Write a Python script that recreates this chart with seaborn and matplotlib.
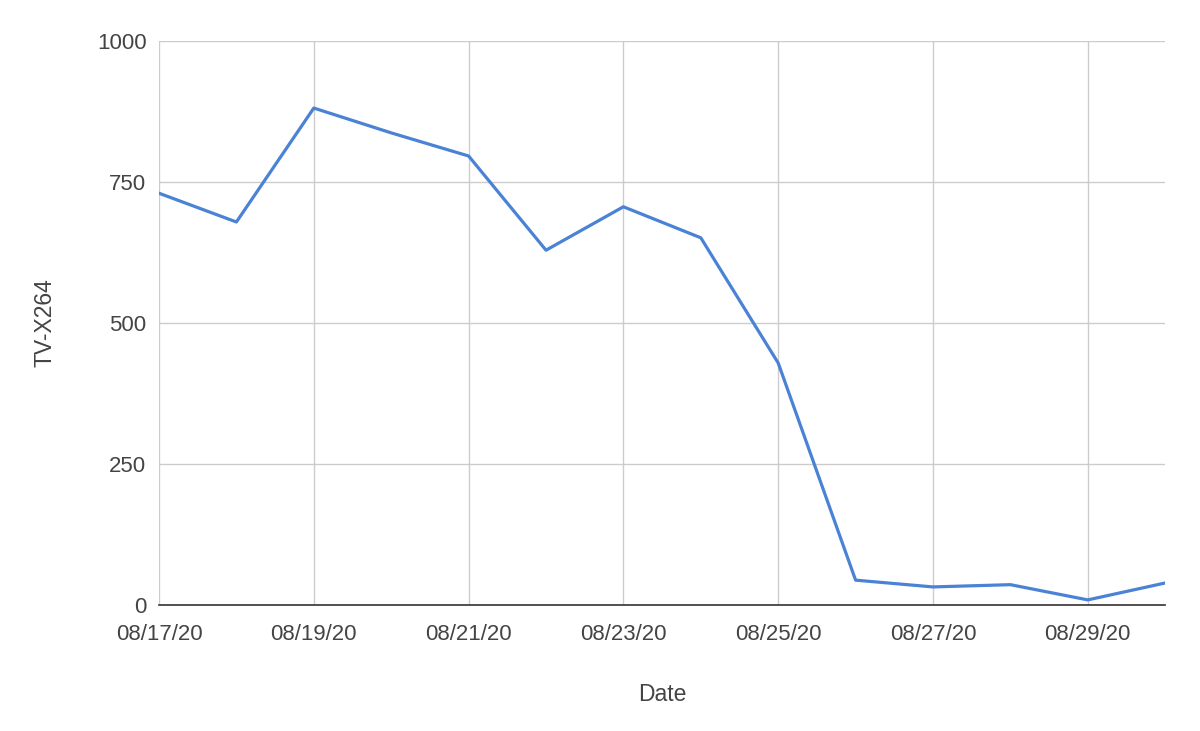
import matplotlib
matplotlib.use("Agg")
import matplotlib.pyplot as plt
import matplotlib.dates as mdates
import seaborn as sns
import pandas as pd

dates = ["2020-08-17", "2020-08-18", "2020-08-19", "2020-08-20", "2020-08-21",
         "2020-08-22", "2020-08-23", "2020-08-24", "2020-08-25", "2020-08-26",
         "2020-08-27", "2020-08-28", "2020-08-29", "2020-08-30"]
values = [730, 679, 881, 837, 796, 629, 706, 651, 429, 44, 32, 36, 9, 39]
y_ticks = [0, 250, 500, 750, 1000]

df = pd.DataFrame({"Date": pd.to_datetime(dates), "TV-X264": values})

sns.set_style("white")
plt.rcParams["font.family"] = ["Liberation Sans", "DejaVu Sans"]

fig = plt.figure(figsize=(12, 7.31), dpi=100)
ax = fig.add_axes([0.1325, 0.1724, 0.971 - 0.1325, 0.944 - 0.1724])

sns.lineplot(data=df, x="Date", y="TV-X264", ax=ax, color="#4a82d6", linewidth=2.3)

ax.set_xlim(df["Date"].iloc[0], df["Date"].iloc[-1])
ax.set_ylim(0, 1000)
ax.set_yticks(y_ticks)
ax.xaxis.set_major_locator(mdates.DayLocator(bymonthday=[17, 19, 21, 23, 25, 27, 29]))
ax.xaxis.set_major_formatter(mdates.DateFormatter("%m/%d/%y"))

ax.grid(True, color="#cccccc", linewidth=1.0)
ax.set_axisbelow(True)
for s in ["top", "right", "left"]:
    ax.spines[s].set_visible(False)
ax.spines["bottom"].set_color("#333333")
ax.spines["bottom"].set_linewidth(1.2)
ax.spines["bottom"].set_zorder(3)

ax.tick_params(axis="both", length=0, labelsize=16, labelcolor="#444444")
ax.tick_params(axis="x", pad=14)
ax.tick_params(axis="y", pad=9)
ax.set_xlabel("Date", fontsize=16.5, color="#444444", labelpad=27)
ax.set_ylabel("TV-X264", fontsize=16.5, color="#444444", labelpad=29)

fig.savefig("out.png", dpi=100)
